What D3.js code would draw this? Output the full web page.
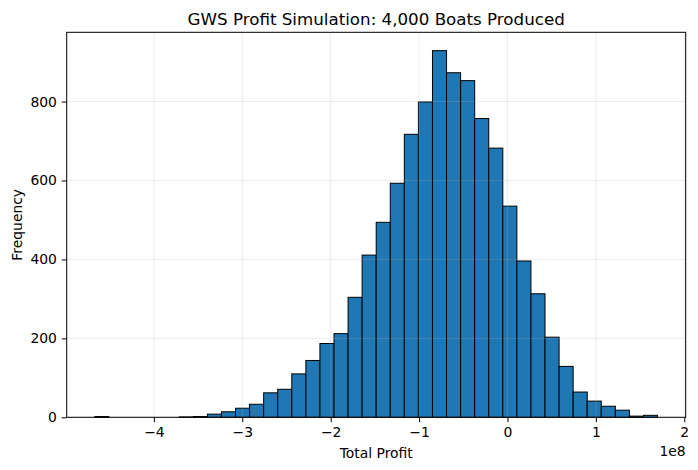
<!DOCTYPE html>
<html>
<head>
<meta charset="utf-8">
<script src="https://cdn.jsdelivr.net/npm/d3@7"></script>
<style>
  body { margin: 0; background: white; }
  svg { display: block; font-family: "DejaVu Sans", sans-serif; }
</style>
</head>
<body>
<div id="chart"></div>
<script>
// histogram range (total profit, dollars) and counts per bin (40 equal bins)
const histMin = -4.668e8;
const histMax = 1.698e8;
const binCounts = [
  2, 0, 0, 0, 0, 0, 1, 2, 8, 14,
  23, 33, 62, 71, 110, 144, 187, 212, 304, 411,
  494, 593, 717, 799, 929, 873, 853, 757, 682, 535,
  396, 313, 203, 129, 64, 41, 28, 18, 3, 5
];
const xTicks = [-4e8, -3e8, -2e8, -1e8, 0, 1e8, 2e8];
const yTicks = [0, 200, 400, 600, 800];

const width = 698;
const height = 470;
const margin = { top: 32.3, right: 12.3, bottom: 52.7, left: 66.7 };

const binWidth = (histMax - histMin) / binCounts.length;
const bins = binCounts.map((c, i) => ({
  x0: histMin + i * binWidth,
  x1: histMin + (i + 1) * binWidth,
  count: c
}));

const svg = d3.select("#chart")
  .append("svg")
  .attr("width", width)
  .attr("height", height)
  .style("background", "white");

// matplotlib style 5% margins
const pad = (histMax - histMin) * 0.05;
const x = d3.scaleLinear()
  .domain([histMin - pad, histMax + pad])
  .range([margin.left, width - margin.right]);

const y = d3.scaleLinear()
  .domain([0, d3.max(binCounts) * 1.05])
  .range([height - margin.bottom, margin.top]);

// bars
svg.selectAll(".bar")
  .data(bins)
  .enter()
  .append("rect")
    .attr("class", "bar")
    .attr("x", d => x(d.x0))
    .attr("y", d => y(d.count))
    .attr("width", d => x(d.x1) - x(d.x0))
    .attr("height", d => y(0) - y(d.count))
    .attr("fill", "#1f77b4")
    .attr("stroke", "black")
    .attr("stroke-width", 1);

// grid drawn above the bars, like matplotlib
const grid = svg.append("g").attr("stroke", "#b0b0b0").attr("stroke-opacity", 0.3).attr("stroke-width", 0.8);
grid.selectAll(".gx")
  .data(xTicks)
  .enter()
  .append("line")
    .attr("x1", d => x(d)).attr("x2", d => x(d))
    .attr("y1", margin.top).attr("y2", height - margin.bottom);
grid.selectAll(".gy")
  .data(yTicks)
  .enter()
  .append("line")
    .attr("x1", margin.left).attr("x2", width - margin.right)
    .attr("y1", d => y(d)).attr("y2", d => y(d));

const fmt = d3.format("d");

const xAxis = svg.append("g")
  .attr("transform", `translate(0,${height - margin.bottom})`)
  .call(d3.axisBottom(x).tickValues(xTicks).tickSize(4.9).tickPadding(4.9)
    .tickFormat(d => fmt(d / 1e8)));

const yAxis = svg.append("g")
  .attr("transform", `translate(${margin.left},0)`)
  .call(d3.axisLeft(y).tickValues(yTicks).tickSize(4.9).tickPadding(4.9)
    .tickFormat(fmt));

[xAxis, yAxis].forEach(g => {
  g.select(".domain").remove();
  g.selectAll("text").attr("font-size", "13.9px").attr("fill", "black")
    .attr("font-family", "DejaVu Sans, sans-serif");
  g.selectAll("line").attr("stroke", "black").attr("stroke-width", 1);
});

// frame
svg.append("rect")
  .attr("x", margin.left)
  .attr("y", margin.top)
  .attr("width", width - margin.left - margin.right)
  .attr("height", height - margin.top - margin.bottom)
  .attr("fill", "none")
  .attr("stroke", "black")
  .attr("stroke-width", 1);

// offset text
svg.append("text")
  .attr("x", width - margin.right)
  .attr("y", 455.5)
  .attr("text-anchor", "end")
  .attr("font-size", "13.9px")
  .text("1e8");

svg.append("text")
  .attr("x", (margin.left + width - margin.right) / 2)
  .attr("y", 457.5)
  .attr("text-anchor", "middle")
  .attr("font-size", "13.9px")
  .text("Total Profit");

svg.append("text")
  .attr("transform", `translate(22,${(margin.top + height - margin.bottom) / 2}) rotate(-90)`)
  .attr("text-anchor", "middle")
  .attr("font-size", "13.9px")
  .text("Frequency");

svg.append("text")
  .attr("x", (margin.left + width - margin.right) / 2)
  .attr("y", 24.5)
  .attr("text-anchor", "middle")
  .attr("font-size", "16.7px")
  .text("GWS Profit Simulation: 4,000 Boats Produced");
</script>
</body>
</html>
